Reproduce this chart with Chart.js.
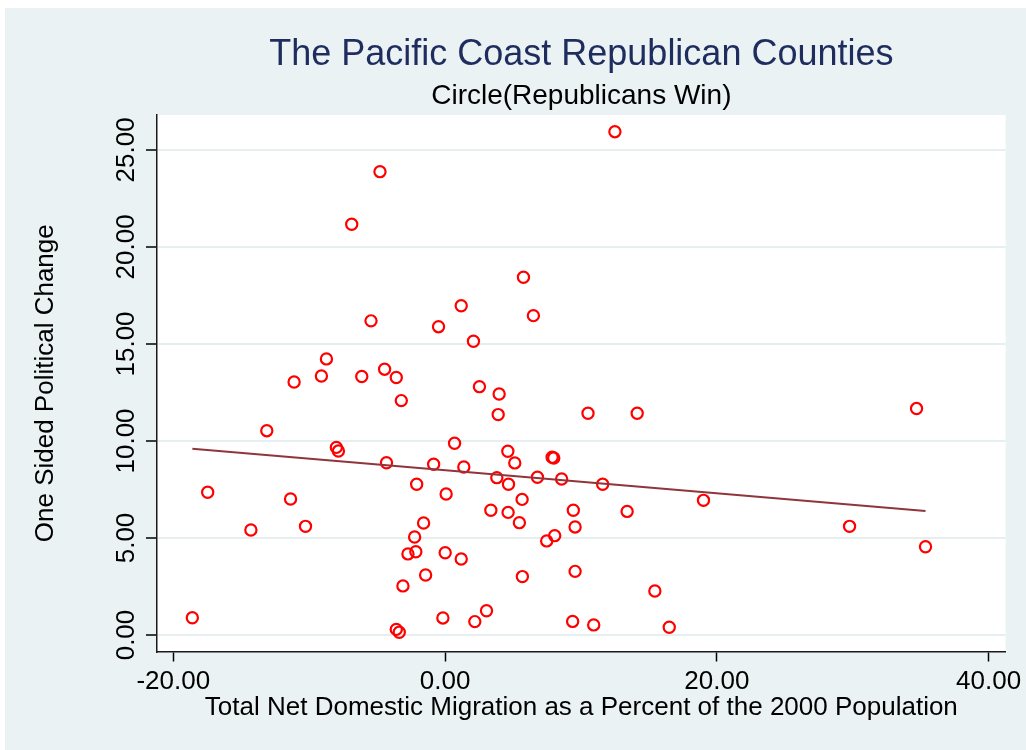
<!DOCTYPE html>
<html>
<head>
<meta charset="utf-8">
<title>The Pacific Coast Republican Counties</title>
<script src="https://cdn.jsdelivr.net/npm/chart.js@4.4.1/dist/chart.umd.min.js"></script>
<style>
  html, body { margin: 0; padding: 0; background: #ffffff; }
  #wrap { width: 1026px; height: 750px; }
  canvas { display: block; }
</style>
</head>
<body>
<div id="wrap"><canvas id="chart" width="1026" height="750"></canvas></div>
<script>
// County observations: net domestic migration (% of 2000 population) vs. one-sided political change
const migration = [
  -18.60, -17.47, -14.29, -13.12, -11.37, -11.11, -10.27, -9.10, -8.73, -8.00,
  -7.85, -6.87, -6.13, -5.45, -4.79, -4.45, -4.31, -3.59, -3.59, -3.37,
  -3.22, -3.10, -2.73, -2.24, -2.15, -2.09, -1.58, -1.43, -0.84, -0.48,
  -0.16, 0.01, 0.08, 0.70, 1.19, 1.19, 1.38, 2.09, 2.19, 2.53,
  3.05, 3.37, 3.81, 3.91, 3.98, 4.62, 4.64, 4.67, 5.13, 5.47,
  5.67, 5.69, 5.77, 6.50, 6.80, 7.48, 7.88, 8.00, 8.07, 8.58,
  9.39, 9.44, 9.57, 9.57, 10.52, 10.94, 11.60, 12.50, 13.40, 14.14,
  15.44, 16.50, 19.02, 29.77, 34.70, 35.36
];
const politicalChange = [
  0.89, 7.36, 5.41, 10.53, 7.01, 13.04, 5.60, 13.35, 14.23, 9.67,
  9.48, 21.17, 13.32, 16.19, 23.88, 13.70, 8.88, 13.27, 0.29, 0.14,
  12.08, 2.53, 4.18, 5.05, 4.29, 7.77, 5.77, 3.09, 8.80, 15.89,
  0.88, 4.24, 7.27, 9.88, 16.97, 3.92, 8.66, 15.14, 0.69, 12.80,
  1.25, 6.43, 8.11, 11.36, 12.42, 9.47, 6.32, 7.77, 8.87, 5.79,
  6.99, 3.01, 18.44, 16.46, 8.13, 4.85, 9.16, 9.12, 5.12, 8.04,
  0.70, 6.43, 5.57, 3.28, 11.43, 0.52, 7.77, 25.94, 6.37, 11.43,
  2.27, 0.40, 6.94, 5.60, 11.67, 4.55
];

// Linear fit drawn across the observed migration range
const fitX = [-18.60, 35.36];
const fitY = [9.60, 6.39];

// Axis ticks
const xTicks = [-20, 0, 20, 40];
const xTickLabels = ['-20.00', '0.00', '20.00', '40.00'];
const yTicks = [0, 5, 10, 15, 20, 25];
const yTickLabels = ['0.00', '5.00', '10.00', '15.00', '20.00', '25.00'];

const FONT = "'Liberation Sans', Arial, Helvetica, sans-serif";
Chart.defaults.font.family = FONT;
Chart.defaults.color = '#000000';

// Outer background, inner panel and white plot region
const backdrop = {
  id: 'backdrop',
  beforeDraw(chart) {
    const { ctx, width, height, chartArea: a } = chart;
    ctx.save();
    ctx.fillStyle = '#ffffff';
    ctx.fillRect(0, 0, width, height);
    ctx.fillStyle = '#eaf2f3';
    ctx.fillRect(5, 8, width - 5, height - 8);
    ctx.fillStyle = '#ffffff';
    ctx.fillRect(a.left, a.top, a.right - a.left, a.bottom - a.top);
    ctx.restore();
  }
};

new Chart(document.getElementById('chart'), {
  type: 'scatter',
  data: {
    datasets: [
      {
        type: 'line',
        label: 'Fitted values',
        data: fitX.map((x, i) => ({ x: x, y: fitY[i] })),
        borderColor: '#90353b',
        borderWidth: 2.2,
        pointRadius: 0,
        fill: false,
        tension: 0,
        order: 0
      },
      {
        type: 'scatter',
        label: 'One Sided Political Change',
        data: migration.map((x, i) => ({ x: x, y: politicalChange[i] })),
        pointStyle: 'circle',
        pointRadius: 5.6,
        pointBorderWidth: 2.2,
        pointBackgroundColor: 'rgba(0,0,0,0)',
        pointBorderColor: '#ff0000',
        borderColor: '#ff0000',
        order: 1
      }
    ]
  },
  options: {
    responsive: false,
    devicePixelRatio: 1,
    animation: false,
    events: [],
    layout: { padding: { top: 0, left: 0, right: 19, bottom: 26.1 } },
    plugins: {
      legend: { display: false },
      tooltip: { enabled: false },
      title: {
        display: true,
        fullSize: false,
        text: 'The Pacific Coast Republican Counties',
        color: '#1e2d5e',
        font: { size: 36, weight: 'normal' },
        padding: { top: 33, bottom: 0 }
      },
      subtitle: {
        display: true,
        fullSize: false,
        text: 'Circle(Republicans Win)',
        color: '#000000',
        font: { size: 28, weight: 'normal' },
        padding: { top: 3, bottom: 2.2 }
      }
    },
    scales: {
      x: {
        type: 'linear',
        position: 'bottom',
        min: -21.2,
        max: 41.26,
        afterBuildTicks: (s) => { s.ticks = xTicks.map(v => ({ value: v })); },
        afterFit: (s) => { s.height = 72.4; },
        ticks: {
          autoSkip: false,
          minRotation: 0,
          maxRotation: 0,
          padding: 4.5,
          color: '#000000',
          font: { size: 26 },
          callback: (v, i) => xTickLabels[i]
        },
        grid: {
          drawOnChartArea: false,
          drawTicks: true,
          tickLength: 10,
          tickWidth: 1.5,
          tickColor: '#000000'
        },
        border: { display: true, color: '#1a1a1a', width: 1.5 },
        title: {
          display: true,
          text: 'Total Net Domestic Migration as a Percent of the 2000 Population',
          color: '#000000',
          font: { size: 26 },
          padding: { top: 0, bottom: 0 }
        }
      },
      y: {
        type: 'linear',
        position: 'left',
        min: -0.85,
        max: 26.8,
        afterBuildTicks: (s) => { s.ticks = yTicks.map(v => ({ value: v })); },
        afterFit: (s) => { s.width = 157; },
        ticks: {
          autoSkip: false,
          minRotation: 90,
          maxRotation: 90,
          crossAlign: 'center',
          padding: -13.5,
          color: '#000000',
          font: { size: 26 },
          callback: (v, i) => yTickLabels[i]
        },
        grid: {
          color: '#e6eef0',
          lineWidth: 2,
          drawTicks: true,
          tickLength: 11,
          tickWidth: 1.5,
          tickColor: '#000000'
        },
        border: { display: true, color: '#1a1a1a', width: 1.5 },
        title: {
          display: true,
          text: 'One Sided Political Change',
          color: '#000000',
          font: { size: 26 },
          padding: { top: 30.4, bottom: 0 }
        }
      }
    }
  },
  plugins: [backdrop]
});
</script>
</body>
</html>
